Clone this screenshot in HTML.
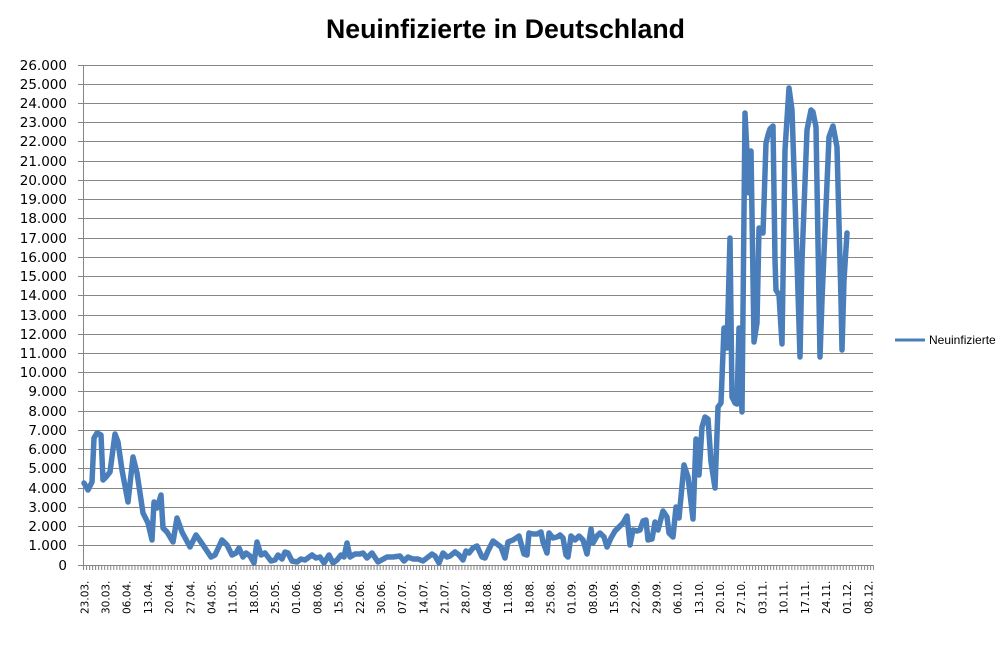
<!DOCTYPE html>
<html>
<head>
<meta charset="utf-8">
<style>
html,body{margin:0;padding:0;background:#fff;}
svg{display:block;}
.yl{font-family:"DejaVu Sans","Liberation Sans",sans-serif;font-size:13.5px;fill:#000;}
.xl{font-family:"DejaVu Sans","Liberation Sans",sans-serif;font-size:10.5px;fill:#000;}
</style>
</head>
<body>
<svg width="1002" height="651" viewBox="0 0 1002 651" xmlns="http://www.w3.org/2000/svg">
<defs>
<pattern id="tk" patternUnits="userSpaceOnUse" x="83" y="565" width="3.027" height="6">
<rect x="0" y="0" width="1" height="6" fill="#868686"/>
</pattern>
</defs>
<rect width="1002" height="651" fill="#fff"/>
<text x="326" y="38" textLength="359" lengthAdjust="spacingAndGlyphs" font-family="Liberation Sans, sans-serif" font-weight="bold" font-size="27" fill="#000">Neuinfizierte in Deutschland</text>

<g stroke="#868686" stroke-width="1" fill="none">
<path d="M78,65.5H873M78,84.5H873M78,103.5H873M78,122.5H873M78,141.5H873M78,161.5H873M78,180.5H873M78,199.5H873M78,218.5H873M78,238.5H873M78,257.5H873M78,276.5H873M78,295.5H873M78,315.5H873M78,334.5H873M78,353.5H873M78,372.5H873M78,391.5H873M78,411.5H873M78,430.5H873M78,449.5H873M78,468.5H873M78,488.5H873M78,507.5H873M78,526.5H873M78,545.5H873"/>
<path d="M78,565.5H873M83.5,65V570"/>
</g>
<rect x="83" y="565" width="791" height="5" fill="url(#tk)"/>

<g class="yl" text-anchor="end">
<text x="67" y="70">26.000</text>
<text x="67" y="89">25.000</text>
<text x="67" y="108">24.000</text>
<text x="67" y="127">23.000</text>
<text x="67" y="146">22.000</text>
<text x="67" y="166">21.000</text>
<text x="67" y="185">20.000</text>
<text x="67" y="204">19.000</text>
<text x="67" y="223">18.000</text>
<text x="67" y="243">17.000</text>
<text x="67" y="262">16.000</text>
<text x="67" y="281">15.000</text>
<text x="67" y="300">14.000</text>
<text x="67" y="320">13.000</text>
<text x="67" y="339">12.000</text>
<text x="67" y="358">11.000</text>
<text x="67" y="377">10.000</text>
<text x="67" y="396">9.000</text>
<text x="67" y="416">8.000</text>
<text x="67" y="435">7.000</text>
<text x="67" y="454">6.000</text>
<text x="67" y="473">5.000</text>
<text x="67" y="493">4.000</text>
<text x="67" y="512">3.000</text>
<text x="67" y="531">2.000</text>
<text x="67" y="550">1.000</text>
<text x="67" y="570">0</text>
</g>

<g class="xl">
<text transform="translate(88.3,614) rotate(-90)">23.03.</text>
<text transform="translate(109.5,614) rotate(-90)">30.03.</text>
<text transform="translate(130.7,614) rotate(-90)">06.04.</text>
<text transform="translate(151.9,614) rotate(-90)">13.04.</text>
<text transform="translate(173.1,614) rotate(-90)">20.04.</text>
<text transform="translate(194.3,614) rotate(-90)">27.04.</text>
<text transform="translate(215.5,614) rotate(-90)">04.05.</text>
<text transform="translate(236.6,614) rotate(-90)">11.05.</text>
<text transform="translate(257.8,614) rotate(-90)">18.05.</text>
<text transform="translate(279.0,614) rotate(-90)">25.05.</text>
<text transform="translate(300.2,614) rotate(-90)">01.06.</text>
<text transform="translate(321.4,614) rotate(-90)">08.06.</text>
<text transform="translate(342.6,614) rotate(-90)">15.06.</text>
<text transform="translate(363.8,614) rotate(-90)">22.06.</text>
<text transform="translate(385.0,614) rotate(-90)">30.06.</text>
<text transform="translate(406.2,614) rotate(-90)">07.07.</text>
<text transform="translate(427.4,614) rotate(-90)">14.07.</text>
<text transform="translate(448.6,614) rotate(-90)">21.07.</text>
<text transform="translate(469.7,614) rotate(-90)">28.07.</text>
<text transform="translate(490.9,614) rotate(-90)">04.08.</text>
<text transform="translate(512.1,614) rotate(-90)">11.08.</text>
<text transform="translate(533.3,614) rotate(-90)">18.08.</text>
<text transform="translate(554.5,614) rotate(-90)">25.08.</text>
<text transform="translate(575.7,614) rotate(-90)">01.09.</text>
<text transform="translate(596.9,614) rotate(-90)">08.09.</text>
<text transform="translate(618.1,614) rotate(-90)">15.09.</text>
<text transform="translate(639.3,614) rotate(-90)">22.09.</text>
<text transform="translate(660.5,614) rotate(-90)">29.09.</text>
<text transform="translate(681.7,614) rotate(-90)">06.10.</text>
<text transform="translate(702.9,614) rotate(-90)">13.10.</text>
<text transform="translate(724.0,614) rotate(-90)">20.10.</text>
<text transform="translate(745.2,614) rotate(-90)">27.10.</text>
<text transform="translate(766.4,614) rotate(-90)">03.11.</text>
<text transform="translate(787.6,614) rotate(-90)">10.11.</text>
<text transform="translate(808.8,614) rotate(-90)">17.11.</text>
<text transform="translate(830.0,614) rotate(-90)">24.11.</text>
<text transform="translate(851.2,614) rotate(-90)">01.12.</text>
<text transform="translate(872.4,614) rotate(-90)">08.12.</text>
</g>

<polyline fill="none" stroke="#4a7ebb" stroke-width="5.5" stroke-linejoin="round" stroke-linecap="round" points="84,483 88,490 92,482 94,438 97,433 101,435 103,480 106,477 110,472 115,434 118,442 122,470 128,502 133,457 137,473 143,513 148,523 152,540 154,502 157,508 161,495 163,528 167,532 173,542 177,518 182,532 190,547 196,535 203,545 211,557 215,555 222,540 227,545 232,555 236,553 239,548 243,557 246,553 250,556 254,563 257,542 261,555 265,553 268,557 271,561 275,560 278,555 282,559 285,552 288,553 292,561 297,562 301,559 305,560 312,555 316,558 320,557 324,563 329,555 333,563 337,560 341,555 344,557 347,543 350,557 355,554 360,554 363,553 367,558 372,553 378,562 387,557 393,557 400,556 404,561 408,557 413,559 418,559 423,561 432,554 435,556 439,563 443,553 447,557 450,556 455,552 459,555 463,560 466,551 469,553 473,548 477,546 482,557 485,558 488,551 493,541 497,544 501,547 505,558 508,542 513,540 519,536 524,554 527,555 529,533 533,534 537,534 541,532 543,542 547,553 549,533 553,538 557,537 560,535 563,538 566,555 568,557 571,536 575,540 579,536 583,540 587,554 591,529 593,543 597,536 600,533 604,537 607,547 611,538 615,531 619,527 623,523 627,516 630,545 633,530 637,531 640,530 643,521 646,520 648,540 652,539 655,522 658,530 663,511 667,517 669,533 673,537 676,507 679,518 684,465 688,477 693,519 696,439 699,475 702,427 705,417 708,419 711,462 715,488 718,407 721,403 724,328 727,348 730,238 732,397 735,403 737,404 739,328 742,412 745,113 749,193 751,151 754,342 757,323 759,228 763,233 766,143 768,135 770,129 773,126 775,260 776,290 779,295 782,344 785,150 789,88 792,110 797,260 800,357 802,260 807,130 811,110 813,112 816,127 819,300 820,357 822,300 829,137 833,126 837,147 841,300 842,350 844,280 847,233"/>

<line x1="895" y1="340" x2="925" y2="340" stroke="#4a7ebb" stroke-width="3"/>
<text x="929" y="344" font-family="Liberation Sans, sans-serif" font-size="12" fill="#000">Neuinfizierte</text>
</svg>
</body>
</html>
